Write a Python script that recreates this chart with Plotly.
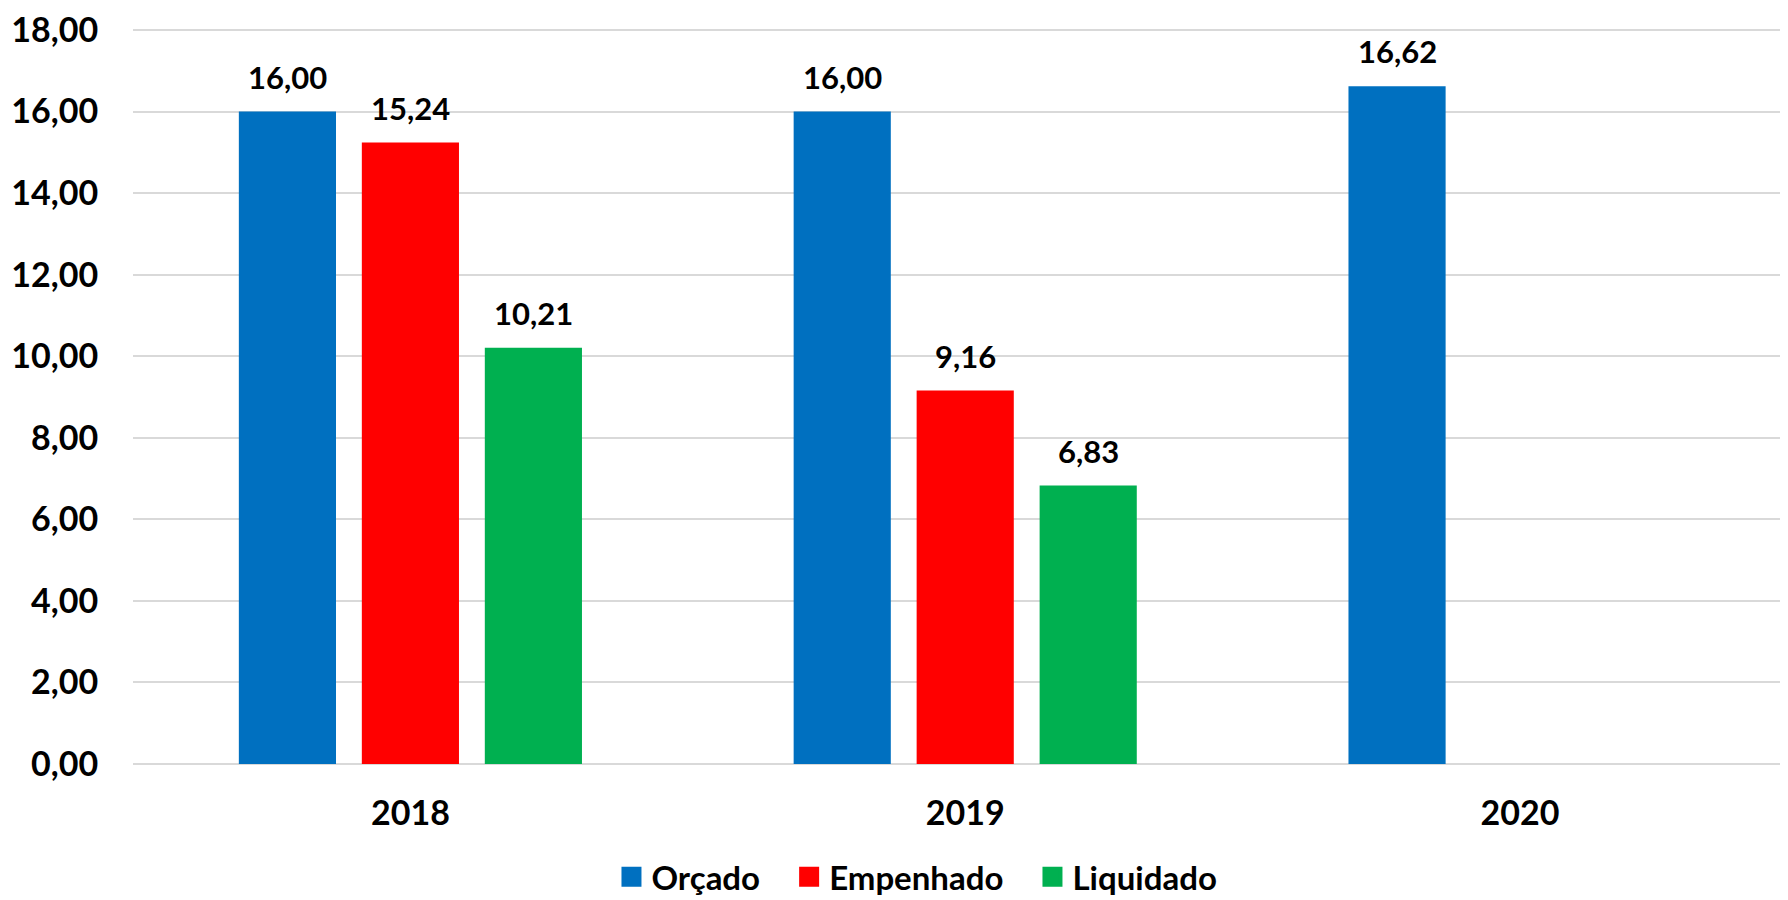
import plotly.graph_objects as go

anos = ["2018", "2019", "2020"]
orcado = [16.00, 16.00, 16.62]
empenhado = [15.24, 9.16, None]
liquidado = [10.21, 6.83, None]

series = [
    ("Orçado", orcado, "#0070C0"),
    ("Empenhado", empenhado, "#FF0000"),
    ("Liquidado", liquidado, "#00B050"),
]

FONT = "Lato, 'Open Sans', sans-serif"
BARGAP = 0.335
slot = (1 - BARGAP) / len(series)
PAD = "\u00a0" * 3

fig = go.Figure()
annotations = []
for j, (name, vals, color) in enumerate(series):
    fig.add_trace(go.Bar(
        x=anos, y=vals, name=name,
        marker=dict(color=color, line=dict(width=0)),
        showlegend=False,
    ))
    # legend entries with larger square symbols
    fig.add_trace(go.Scatter(
        x=[None], y=[None], mode="markers",
        name=name + (PAD if j < len(series) - 1 else ""),
        marker=dict(symbol="square", size=16, color=color,
                    line=dict(width=4, color=color)),
    ))
    for i, v in enumerate(vals):
        if v is None:
            continue
        annotations.append(dict(
            x=i + (j - 1) * slot, y=v, xref="x", yref="y",
            text=f"{v:.2f}".replace(".", ","), showarrow=False,
            yanchor="bottom", yshift=14,
            font=dict(family=FONT, size=31, color="#000000", weight="bold"),
        ))

fig.update_layout(
    barmode="group",
    bargap=BARGAP,
    bargroupgap=0.21,
    separators=",.",
    width=1780, height=892,
    paper_bgcolor="white", plot_bgcolor="white",
    margin=dict(l=125, r=0, t=17, b=136),
    font=dict(family=FONT, size=34, color="#000000", weight="bold"),
    annotations=annotations,
    legend=dict(
        orientation="h", xref="paper", x=0.4737, xanchor="center",
        yref="container", y=0.026, yanchor="middle",
        font=dict(family=FONT, size=33, color="#000000", weight="bold"),
        itemsizing="trace", tracegroupgap=0,
    ),
    xaxis=dict(
        type="category", range=[-0.5, 2.483],
        showgrid=False, showline=False, zeroline=False,
        ticks="outside", ticklen=19, tickcolor="rgba(0,0,0,0)",
        tickfont=dict(family=FONT, size=34, weight="bold"),
    ),
    yaxis=dict(
        range=[0, 18.05], tickmode="linear", tick0=0, dtick=2, tickformat=".2f",
        showgrid=True, gridcolor="#D9D9D9", gridwidth=2,
        zeroline=True, zerolinecolor="#D9D9D9", zerolinewidth=2,
        showline=False, ticklabeloverflow="allow",
        ticks="outside", ticklen=27, tickcolor="rgba(0,0,0,0)",
        tickfont=dict(family=FONT, size=34, weight="bold"),
    ),
)

fig.write_html("out.html")
